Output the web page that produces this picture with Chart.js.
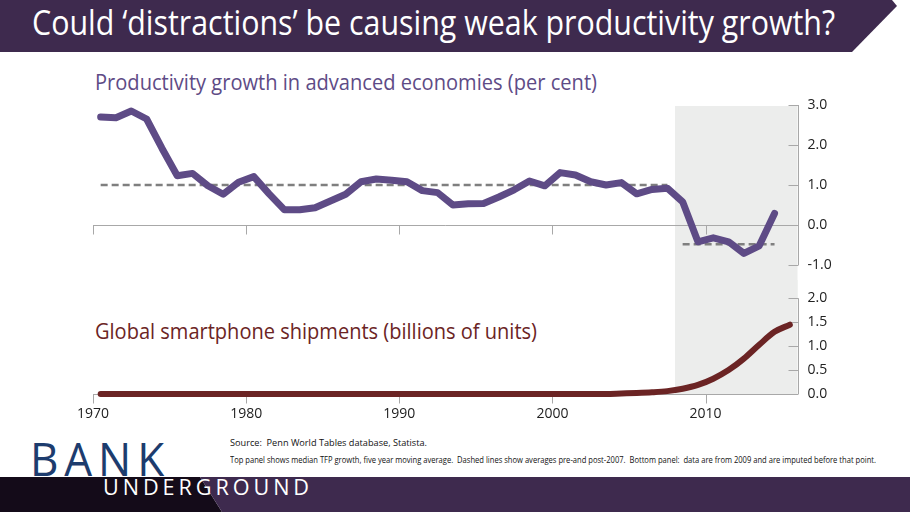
<!DOCTYPE html>
<html>
<head>
<meta charset="utf-8">
<script src="https://cdn.jsdelivr.net/npm/chart.js@4.4.1/dist/chart.umd.min.js"></script>
<style>
  html, body { margin: 0; padding: 0; background: #fff; }
  #page { position: relative; width: 910px; height: 512px; overflow: hidden; font-family: "Open Sans", sans-serif; }
  .txt { position: absolute; white-space: nowrap; line-height: 1; transform-origin: 0 50%; }
  canvas { position: absolute; left: 0; }
</style>
</head>
<body>
<div id="page">
  <svg width="910" height="512" style="position:absolute;left:0;top:0">
    <polygon points="0,0 892,0 897,6 852,52 0,52" fill="#3e2a4e"/>
    <polygon points="0,477 200,477 222,512 0,512" fill="#140b19"/>
    <polygon points="200,477 910,477 910,512 222,512" fill="#3e2a4e"/>
  </svg>

  <div class="txt fit" data-w="803" style="left:32px;top:5px;font-size:34px;color:#fff">Could ‘distractions’ be causing weak productivity growth?</div>
  <div class="txt fit" data-w="502" style="left:95px;top:72px;font-size:21px;color:#5e4b86">Productivity growth in advanced economies (per cent)</div>
  <div class="txt fit" data-w="442" style="left:95px;top:321px;font-size:21px;color:#6b2424">Global smartphone shipments (billions of units)</div>

  <div class="txt fit" data-w="140" style="left:30px;top:436px;font-size:45px;letter-spacing:6px;color:#1d3c6e">BANK</div>
  <div class="txt fit" data-w="210" style="left:103px;top:475px;font-size:22px;letter-spacing:4px;color:#fff">UNDERGROUND</div>

  <div class="txt fit" data-w="197" style="left:230px;top:438px;font-size:9px;color:#111">Source:&nbsp; Penn World Tables database, Statista.</div>
  <div class="txt fit" data-w="646" style="left:230px;top:455px;font-size:9px;color:#111">Top panel shows median TFP growth, five year moving average.&nbsp; Dashed lines show averages pre-and post-2007.&nbsp; Bottom panel:&nbsp; data are from 2009 and are imputed before that point.</div>

  <canvas id="top" width="910" height="300" style="top:0"></canvas>
  <canvas id="bottom" width="910" height="160" style="top:280px"></canvas>
</div>

<script>
// ==============================
// DATA
// ==============================
const years = [
  1970, 1971, 1972, 1973, 1974, 1975, 1976, 1977, 1978, 1979,
  1980, 1981, 1982, 1983, 1984, 1985, 1986, 1987, 1988, 1989,
  1990, 1991, 1992, 1993, 1994, 1995, 1996, 1997, 1998, 1999,
  2000, 2001, 2002, 2003, 2004, 2005, 2006, 2007, 2008, 2009,
  2010, 2011, 2012, 2013, 2014, 2015
];

// median TFP growth, 5y moving average (1970-2014)
const productivity = [
  2.70, 2.68, 2.85, 2.65, 1.92, 1.23, 1.29, 0.98, 0.77, 1.07,
  1.21, 0.78, 0.38, 0.38, 0.43, 0.60, 0.77, 1.08, 1.15, 1.12,
  1.08, 0.86, 0.81, 0.50, 0.53, 0.54, 0.70, 0.88, 1.10, 0.98,
  1.31, 1.25, 1.08, 1.00, 1.06, 0.78, 0.89, 0.92, 0.58, -0.42,
  -0.32, -0.42, -0.71, -0.52, 0.29
];

// smartphone shipments, billions (1970-2015)
const shipments = [
  0, 0, 0, 0, 0, 0, 0, 0, 0, 0,
  0, 0, 0, 0, 0, 0, 0, 0, 0, 0,
  0, 0, 0, 0, 0, 0, 0, 0, 0, 0,
  0, 0, 0, 0, 0.01, 0.02, 0.035, 0.06, 0.11, 0.19,
  0.32, 0.50, 0.74, 1.03, 1.30, 1.45
];

// dashed averages pre / post 2007
const preAvg = 1.0;
const preYears = [1970, 2007];
const postAvg = -0.48;
const postYears = [2008, 2014];

const shadeFrom = 2008;
const xRange = [1970, 2016];
const xTicks = [1970, 1980, 1990, 2000, 2010];
const topTicks = [-1, 0, 1, 2, 3];
const bottomTicks = [0, 0.5, 1, 1.5, 2];

// ==============================
// STYLE
// ==============================
const purple = "#5e4b86";
const maroon = "#6b2424";
const axisGrey = "#a8a8a8";
const shadeGrey = "#ecedec";

Chart.defaults.font.family = "'Open Sans', sans-serif";

// fit decorative text widths
document.querySelectorAll(".fit").forEach(el => {
  const w = el.getBoundingClientRect().width;
  el.style.transform = "scaleX(" + (Number(el.dataset.w) / w) + ")";
});

// mid-year points
function points(vals) {
  return vals.map((v, i) => ({ x: years[i] + 0.5, y: v }));
}
function avgLine(span, v) {
  return [{ x: span[0] + 0.5, y: v }, { x: span[1] + 0.5, y: v }];
}

// ==============================
// AXES + SHADING PLUGIN
// ==============================
function decor(yTicks, shadeTop) {
  return {
    id: "decor",
    beforeDatasetsDraw(chart) {
      const { ctx, chartArea: a, scales } = chart;
      const x = scales.x, y = scales.y;
      ctx.save();

      const sx = x.getPixelForValue(shadeFrom);
      const top = shadeTop(a);
      ctx.fillStyle = shadeGrey;
      ctx.fillRect(sx, top, a.right - sx, a.bottom - top);
      if (chart.canvas.id === "top") ctx.fillRect(sx, a.bottom, a.right - sx, chart.height - a.bottom);

      ctx.strokeStyle = axisGrey;
      ctx.lineWidth = 1;
      ctx.beginPath();
      const y0 = Math.round(y.getPixelForValue(0)) + 0.5;
      ctx.moveTo(a.left, y0);
      ctx.lineTo(a.right, y0);
      xTicks.forEach(t => {
        const px = Math.round(x.getPixelForValue(t)) + 0.5;
        ctx.moveTo(px, y0);
        ctx.lineTo(px, y0 + 9);
      });
      const rx = Math.round(a.right) + 0.5;
      ctx.moveTo(rx, y.getPixelForValue(yTicks[yTicks.length - 1]));
      ctx.lineTo(rx, y.getPixelForValue(yTicks[0]));
      yTicks.forEach(t => {
        const py = Math.round(y.getPixelForValue(t)) + 0.5;
        ctx.moveTo(rx - 10, py);
        ctx.lineTo(rx, py);
      });
      ctx.stroke();
      ctx.restore();
    }
  };
}

function yAxis(min, max, ticks) {
  return {
    position: "right",
    min: min,
    max: max,
    afterBuildTicks: s => { s.ticks = ticks.map(v => ({ value: v })); },
    afterFit: s => { s.width = 40; },
    grid: { display: false, drawTicks: false },
    border: { display: false },
    ticks: { padding: 10, color: "#222", font: { size: 14 }, callback: v => v.toFixed(1) }
  };
}

// ==============================
// TOP PANEL
// ==============================
new Chart(document.getElementById("top"), {
  type: "line",
  data: {
    datasets: [
      {
        data: points(productivity),
        borderColor: purple,
        borderWidth: 7,
        borderJoinStyle: "round",
        borderCapStyle: "round",
        pointRadius: 0,
        clip: false
      },
      {
        data: avgLine(preYears, preAvg),
        borderColor: "#7f7f7f",
        borderWidth: 2.5,
        borderDash: [7, 4],
        pointRadius: 0,
        clip: false
      },
      {
        data: avgLine(postYears, postAvg),
        borderColor: "#7f7f7f",
        borderWidth: 2.5,
        borderDash: [7, 4],
        pointRadius: 0,
        clip: false
      }
    ]
  },
  options: {
    responsive: false,
    animation: false,
    events: [],
    layout: { padding: { left: 93, right: 72.5, top: 105, bottom: 35 } },
    plugins: { legend: { display: false }, tooltip: { enabled: false } },
    scales: {
      x: { type: "linear", min: xRange[0], max: xRange[1], display: false },
      y: yAxis(-1, 3, topTicks)
    }
  },
  plugins: [decor(topTicks, a => a.top + 1)]
});

// ==============================
// BOTTOM PANEL
// ==============================
new Chart(document.getElementById("bottom"), {
  type: "line",
  data: {
    datasets: [
      {
        data: points(shipments),
        borderColor: maroon,
        borderWidth: 6,
        borderCapStyle: "round",
        cubicInterpolationMode: "monotone",
        pointRadius: 0,
        clip: false
      }
    ]
  },
  options: {
    responsive: false,
    animation: false,
    events: [],
    layout: { padding: { left: 93, right: 72.5, top: 17.3, bottom: 16 } },
    plugins: { legend: { display: false }, tooltip: { enabled: false } },
    scales: {
      x: {
        type: "linear",
        min: xRange[0],
        max: xRange[1],
        afterBuildTicks: s => { s.ticks = xTicks.map(v => ({ value: v })); },
        afterFit: s => { s.height = 30; },
        grid: { display: false, drawTicks: false },
        border: { display: false },
        ticks: { padding: 12, autoSkip: false, maxRotation: 0, color: "#222", font: { size: 14 }, callback: v => String(v) }
      },
      y: yAxis(0, 2, bottomTicks)
    }
  },
  plugins: [decor(bottomTicks, () => 0)]
});
</script>
</body>
</html>
